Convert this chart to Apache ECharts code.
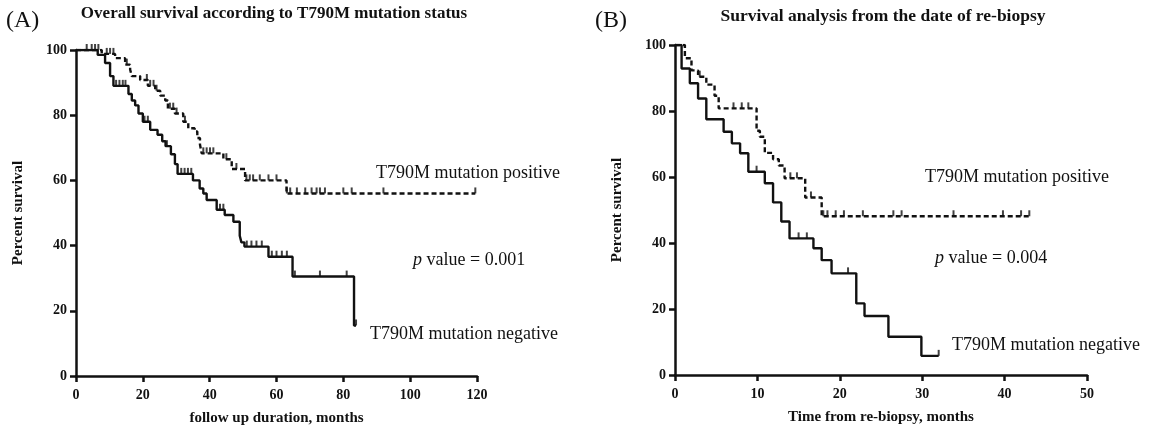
<!DOCTYPE html>
<html>
<head>
<meta charset="utf-8">
<script src="https://cdn.jsdelivr.net/npm/echarts@6/dist/echarts.min.js"></script>
<style>
html,body{margin:0;padding:0;background:#fff;}
#chart{width:1151px;height:437px;}
</style>
</head>
<body>
<div id="chart"></div>
<script>
// ---------- DATA ----------
// Panel A: overall survival
const posA_months = [0, 7.7, 11.7, 14.7, 16.2, 16.7, 19.2, 21.5, 23.7, 25.2, 26.7, 27.5, 29.6, 32.1, 33.6, 35.5, 36.3, 37.1, 37.6, 44.1, 46.6, 50.6, 63.0];
const posA_surv   = [100, 98.8, 97.5, 95.5, 94, 92, 90.8, 89, 87.5, 86, 84.5, 82, 80.5, 78, 76, 75, 73, 71, 68.3, 66.5, 63.5, 60, 56];
const posA_end = 119.5;
const posA_censor = [3.2, 4.7, 5.7, 6.7, 9.2, 10.2, 11.2, 15.2, 21.2, 22.2, 23.2, 24.1, 28.1, 29.1, 30.1, 32.6, 38.1, 39.1, 40.1, 41.1, 45, 48, 51, 52, 53, 55, 57.6, 60, 63.1, 64.1, 66.1, 68.6, 70.5, 72, 73, 74.5, 80, 82.5, 92, 119.5];

const negA_months = [0, 6.5, 8.7, 10.2, 11.2, 15.7, 16.7, 17.7, 18.7, 20, 22.2, 24.4, 25.8, 26.8, 28.4, 29.6, 30.4, 35, 37, 38.1, 39.1, 42.1, 44.5, 47.1, 49, 49.5, 50.4, 57.6, 64.8, 83.2];
const negA_surv   = [100, 98.5, 96, 92, 89, 86.5, 84.5, 83, 80.5, 78, 75.5, 74, 72, 70.5, 68, 65, 62, 60, 57.5, 56, 54, 51, 49.4, 47.3, 43, 41, 39.7, 36.6, 30.5, 15.5];
const negA_end = 83.8;
const negA_censor = [12, 13, 14, 14.8, 20.5, 21.5, 27.2, 31.5, 32.5, 33.5, 34.5, 43.1, 44.1, 51.1, 52.5, 54, 55.6, 58.6, 60, 61.6, 63.1, 65.5, 73, 81, 83.8];

// Panel B: survival from re-biopsy
const posB_months = [0, 1.2, 2.0, 2.8, 3.8, 4.8, 5.3, 9.9, 10.3, 10.9, 11.9, 12.6, 13.3, 15.8, 17.8];
const posB_surv   = [100, 96, 92.3, 90.4, 88, 84.6, 80.8, 74, 72.2, 67.3, 65.4, 63.5, 59.6, 53.8, 48.1];
const posB_end = 43;
const posB_censor = [3, 7.1, 8.1, 8.9, 14, 14.8, 16.5, 18, 18.5, 19.5, 20.5, 22.8, 26.5, 27.5, 33.8, 39.8, 42, 43];

const negB_months = [0, 0.8, 1.8, 2.8, 3.8, 5.9, 6.9, 7.9, 8.9, 10.9, 11.9, 12.9, 13.9, 16.8, 17.8, 19, 22, 23, 25.9, 29.9];
const negB_surv   = [100, 92.9, 88.4, 83.8, 77.5, 73.7, 70.2, 67.2, 61.6, 58.1, 52.3, 46.5, 41.4, 38.4, 34.8, 30.8, 21.7, 17.9, 11.6, 5.8];
const negB_end = 32;
const negB_censor = [9.9, 15, 16, 21, 32];

// tick labels
const yTicks = [0, 20, 40, 60, 80, 100];
const xTicksA = [0, 20, 40, 60, 80, 100, 120];
const xTicksB = [0, 10, 20, 30, 40, 50];

// ---------- helpers ----------
function curve(months, surv, end) {
  const d = months.map((m, i) => [m, surv[i]]);
  d.push([end, surv[surv.length - 1]]);
  return d;
}
function survAt(months, surv, t) {
  let v = surv[0];
  for (let i = 0; i < months.length; i++) { if (months[i] <= t) v = surv[i]; }
  return v;
}
function censor(months, surv, list) {
  return list.map(t => [t, survAt(months, surv, t)]);
}

const SERIF = '"Liberation Serif", "Times New Roman", serif';
const INK = '#111';

function xAxis(idx, max, interval, name) {
  return {
    type: 'value', gridIndex: idx, min: 0, max: max, interval: interval,
    name: name, nameLocation: 'middle', nameGap: 35,
    nameTextStyle: { fontFamily: SERIF, fontWeight: 'bold', fontSize: 15, color: INK },
    axisLine: { show: true, onZero: false, lineStyle: { color: INK, width: 2.5 } },
    axisTick: { show: true, length: 6, lineStyle: { color: INK, width: 2.5 } },
    axisLabel: { fontFamily: SERIF, fontWeight: 'bold', fontSize: 14, color: INK, margin: 12 },
    splitLine: { show: false }
  };
}
function yAxis(idx, name) {
  return {
    type: 'value', gridIndex: idx, min: yTicks[0], max: yTicks[yTicks.length - 1], interval: yTicks[1] - yTicks[0],
    name: name, nameLocation: 'middle', nameGap: 50,
    nameTextStyle: { fontFamily: SERIF, fontWeight: 'bold', fontSize: 15, color: INK },
    axisLine: { show: true, onZero: false, lineStyle: { color: INK, width: 2.5 } },
    axisTick: { show: true, length: 6, lineStyle: { color: INK, width: 2.5 } },
    axisLabel: { fontFamily: SERIF, fontWeight: 'bold', fontSize: 14, color: INK, margin: 9 },
    splitLine: { show: false }
  };
}
function km(idx, data, dashed) {
  return {
    type: 'line', xAxisIndex: idx, yAxisIndex: idx, data: data, step: 'end',
    showSymbol: false, symbol: 'none', animation: false,
    lineStyle: { color: INK, width: 2.4, type: dashed ? [5, 3] : 'solid' }
  };
}
function marks(idx, data) {
  return {
    type: 'scatter', xAxisIndex: idx, yAxisIndex: idx, data: data,
    symbol: 'rect', symbolSize: [2, 6], symbolOffset: [0, -3],
    itemStyle: { color: INK }, animation: false, z: 3
  };
}
function txt(x, y, text, font, align) {
  return {
    type: 'text', x: x, y: y,
    style: { text: text, font: font || ('18px ' + SERIF), fill: INK, textAlign: align || 'left', textVerticalAlign: 'middle' }
  };
}
function pval(x, y, v) {
  return { type: 'text', x: x, y: y, style: { text: '{i|p} value = ' + v, font: '18px ' + SERIF, fill: INK, textVerticalAlign: 'middle', rich: { i: { fontStyle: 'italic', fontFamily: SERIF, fontSize: 18, fill: INK } } } };
}

const chart = echarts.init(document.getElementById('chart'), null, { renderer: 'canvas' });
chart.setOption({
  animation: false,
  backgroundColor: '#fff',
  grid: [
    { left: 76, top: 50, width: 401, height: 326 },
    { left: 675, top: 45, width: 412, height: 330 }
  ],
  xAxis: [
    xAxis(0, xTicksA[xTicksA.length - 1], xTicksA[1] - xTicksA[0], 'follow up duration, months'),
    xAxis(1, xTicksB[xTicksB.length - 1], xTicksB[1] - xTicksB[0], 'Time from re-biopsy, months')
  ],
  yAxis: [
    yAxis(0, 'Percent survival'),
    yAxis(1, 'Percent survival')
  ],
  series: [
    km(0, curve(posA_months, posA_surv, posA_end), true),
    km(0, curve(negA_months, negA_surv, negA_end), false),
    marks(0, censor(posA_months, posA_surv, posA_censor)),
    marks(0, censor(negA_months, negA_surv, negA_censor)),
    km(1, curve(posB_months, posB_surv, posB_end), true),
    km(1, curve(negB_months, negB_surv, negB_end), false),
    marks(1, censor(posB_months, posB_surv, posB_censor)),
    marks(1, censor(negB_months, negB_surv, negB_censor))
  ],
  graphic: [
    txt(6, 21, '(A)', '24px ' + SERIF),
    txt(274, 14, 'Overall survival according to T790M mutation status', 'bold 17px ' + SERIF, 'center'),
    txt(376, 173, 'T790M mutation positive'),
    pval(413, 260, '0.001'),
    txt(370, 334, 'T790M mutation negative'),

    txt(595, 21, '(B)', '24px ' + SERIF),
    txt(883, 16, 'Survival analysis from the date of re-biopsy', 'bold 17.5px ' + SERIF, 'center'),
    txt(925, 177, 'T790M mutation positive'),
    pval(935, 258, '0.004'),
    txt(952, 345, 'T790M mutation negative')
  ]
});
</script>
</body>
</html>
